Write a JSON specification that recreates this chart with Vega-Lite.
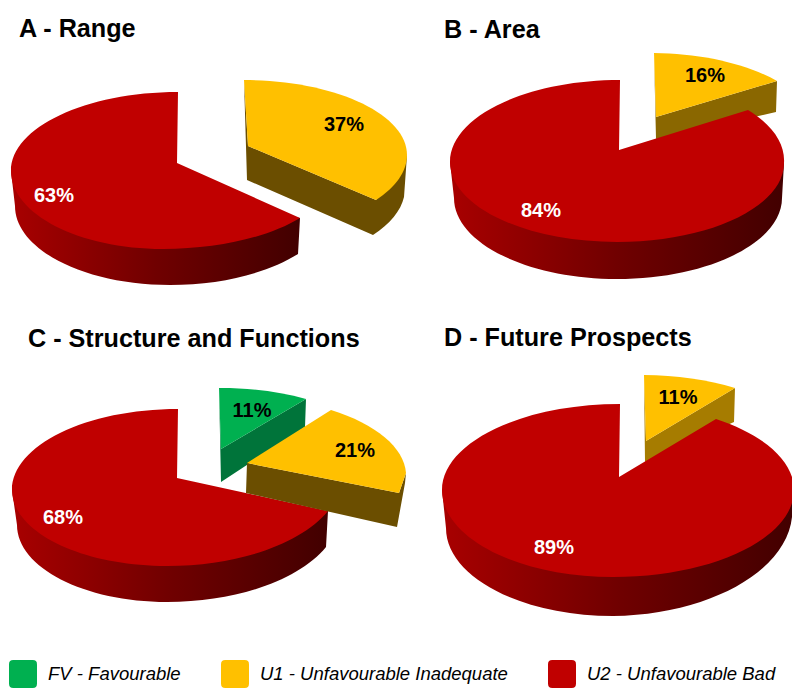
{"$schema":"https://vega.github.io/schema/vega-lite/v6.json","width":792,"height":688,"padding":0,"autosize":{"type":"none"},"background":"white","view":{"stroke":null},
"config":{"text":{"font":"Liberation Sans"}},
"datasets":{"slices":[
{"slice":"A U2","col":"left","row":"top","category":"U2 - Unfavourable Bad","value":0.63},
{"slice":"A U1","col":"left","row":"top","category":"U1 - Unfavourable Inadequate","value":0.37},
{"slice":"B U2","col":"right","row":"top","category":"U2 - Unfavourable Bad","value":0.84},
{"slice":"B U1","col":"right","row":"top","category":"U1 - Unfavourable Inadequate","value":0.16},
{"slice":"C U2","col":"left","row":"bottom","category":"U2 - Unfavourable Bad","value":0.68},
{"slice":"C U1","col":"left","row":"bottom","category":"U1 - Unfavourable Inadequate","value":0.21},
{"slice":"C FV","col":"left","row":"bottom","category":"FV - Favourable","value":0.11},
{"slice":"D U2","col":"right","row":"bottom","category":"U2 - Unfavourable Bad","value":0.89},
{"slice":"D U1","col":"right","row":"bottom","category":"U1 - Unfavourable Inadequate","value":0.11}],
"titles":[
{"panel":"A","col":"left","row":"top","title":"A - Range"},
{"panel":"B","col":"right","row":"top","title":"B - Area"},
{"panel":"C","col":"left","row":"bottom","title":"C - Structure and Functions"},
{"panel":"D","col":"right","row":"bottom","title":"D - Future Prospects"}]},
"data":{"name":"slices"},
"encoding":{
"x":{"field":"col","type":"nominal","axis":null,"scale":{"type":"point","domain":["left","right"],"range":[177,619],"padding":0}},
"y":{"field":"row","type":"nominal","axis":null,"scale":{"type":"point","domain":["top","bottom"],"range":[163,478],"padding":0}}},
"resolve":{"scale":{"shape":"independent"},"legend":{"shape":"independent"}},
"layer":[
{"transform":[{"filter":{"field":"slice","oneOf":["B U1"]}}],"mark":{"type":"point","filled":true,"size":4,"opacity":1,"fill":"#8a6700"},
"encoding":{"shape":{"field":"slice","type":"nominal","legend":null,"scale":{"domain":["B U1"],"range":["M35 -110 L37 -24 L157 -51 L158 -82 L37 -46 Z"]}}}},
{"transform":[{"filter":{"field":"slice","oneOf":["D U1"]}}],"mark":{"type":"point","filled":true,"size":4,"opacity":1,"fill":"#a67c00"},
"encoding":{"shape":{"field":"slice","type":"nominal","legend":null,"scale":{"domain":["D U1"],"range":["M25 -103 L26 -16 L115 -56 L116 -90 L27 -37 Z"]}}}},
{"transform":[{"filter":{"field":"slice","oneOf":["B U1","D U1"]}}],"mark":{"type":"point","filled":true,"size":4,"opacity":1},
"encoding":{"fill":{"field":"category","type":"nominal","scale":{"domain":["FV - Favourable","U1 - Unfavourable Inadequate","U2 - Unfavourable Bad"],"range":["#00b050","#ffc000","#c00000"]},
"legend":{"orient":"none","legendX":9,"legendY":660,"direction":"horizontal","columns":3,"title":null,"gridAlign":"none","columnPadding":40,"labelOffset":11,"labelLimit":0,"labelFont":"Liberation Sans","labelFontStyle":"italic","labelFontSize":18.5,"labelColor":"#000000","symbolSize":784,"symbolStrokeWidth":0,"symbolOpacity":1,"symbolType":"M-1 -0.7 Q-1 -1 -0.7 -1 L0.7 -1 Q1 -1 1 -0.7 L1 0.7 Q1 1 0.7 1 L-0.7 1 Q-1 1 -1 0.7 Z"}},
"shape":{"field":"slice","type":"nominal","legend":null,"scale":{"domain":["B U1","D U1"],"range":["M37 -46 L35 -110 A167 81 0 0 1 158 -82 Z","M27 -37 L25 -103 A176 87 0 0 1 116 -90 Z"]}}}},
{"transform":[{"filter":{"field":"slice","oneOf":["A U2","B U2","C U2","D U2"]}}],"mark":{"type":"point","filled":true,"size":4,"opacity":1,"fill":{"gradient":"linear","x1":0,"y1":0,"x2":1,"y2":0,"stops":[{"offset":0,"color":"#a80000"},{"offset":0.5,"color":"#700000"},{"offset":1,"color":"#420000"}]}},
"encoding":{"shape":{"field":"slice","type":"nominal","legend":null,"scale":{"domain":["A U2","B U2","C U2","D U2"],"range":["M-166 8 L123 55 L121 91 A165 84 0 0 1 -7 122 A155 79 0 0 1 -162 43 Z","M-169 -1 L165 0 L163 35 A165 81 0 0 1 -2 116 A163 81 0 0 1 -165 35 Z","M-165 12 L151 33 L149 69 A173 91 0 0 1 -10 124 A150 77 0 0 1 -160 47 Z","M-177 12 L175 12 L173 39 A185 105 0 0 1 -6 138 A167 88 0 0 1 -173 50 Z"]}}}},
{"transform":[{"filter":{"field":"slice","oneOf":["A U2","B U2","C U2","D U2"]}}],"mark":{"type":"point","filled":true,"size":4,"opacity":1},
"encoding":{"fill":{"field":"category","type":"nominal"},
"shape":{"field":"slice","type":"nominal","legend":null,"scale":{"domain":["A U2","B U2","C U2","D U2"],"range":["M0 0 L1 -71 A167 79 0 0 0 -166 8 A152 78 0 0 0 -14 86 A170 76 0 0 0 123 55 Z","M0 -13 L1 -83 A170 82 0 0 0 -169 -1 A167 80 0 0 0 -2 79 A167 79 0 0 0 165 0 A167 81 0 0 0 129 -53 Z","M0 0 L1 -69 A166 81 0 0 0 -165 12 A155 76 0 0 0 -10 88 A175 90 0 0 0 151 33 Z","M0 -1 L1 -74 A178 86 0 0 0 -177 12 A171 87 0 0 0 -6 99 A181 87 0 0 0 175 12 A181 86 0 0 0 97 -59 Z"]}}}},
{"transform":[{"filter":{"field":"slice","oneOf":["C FV"]}}],"mark":{"type":"point","filled":true,"size":4,"opacity":1,"fill":"#00743a"},
"encoding":{"shape":{"field":"slice","type":"nominal","legend":null,"scale":{"domain":["C FV"],"range":["M42 -90 L44 4 L128 -51 L129 -79 L44 -29 Z"]}}}},
{"transform":[{"filter":{"field":"slice","oneOf":["C FV"]}}],"mark":{"type":"point","filled":true,"size":4,"opacity":1},
"encoding":{"fill":{"field":"category","type":"nominal"},"shape":{"field":"slice","type":"nominal","legend":null,"scale":{"domain":["C FV"],"range":["M44 -29 L42 -90 A167 79 0 0 1 129 -79 Z"]}}}},
{"transform":[{"filter":{"field":"slice","oneOf":["A U1","C U1"]}}],"mark":{"type":"point","filled":true,"size":4,"opacity":1,"fill":"#6b4e00"},
"encoding":{"shape":{"field":"slice","type":"nominal","legend":null,"scale":{"domain":["A U1","C U1"],"range":["M67 -83 L70 17 L196 72 A167 79 0 0 0 227 34 L230 -8 L199 37 L71 -17 Z","M70 -15 L69 15 L220 49 L228 5 L229 -5 L222 15 Z"]}}}},
{"transform":[{"filter":{"field":"slice","oneOf":["A U1","C U1"]}}],"mark":{"type":"point","filled":true,"size":4,"opacity":1},
"encoding":{"fill":{"field":"category","type":"nominal"},"shape":{"field":"slice","type":"nominal","legend":null,"scale":{"domain":["A U1","C U1"],"range":["M71 -17 L67 -83 A163 75 0 0 1 230 -8 A163 77 0 0 1 199 37 Z","M70 -15 L154 -68 A167 79 0 0 1 229 -5 L222 15 Z"]}}}},
{"transform":[{"filter":{"field":"slice","oneOf":["A U2"]}}],"mark":{"type":"text","fontSize":20,"fontWeight":"bold","color":"#ffffff","baseline":"middle","dx":-123,"dy":33},"encoding":{"text":{"field":"value","type":"quantitative","format":".0%"}}},
{"transform":[{"filter":{"field":"slice","oneOf":["A U1"]}}],"mark":{"type":"text","fontSize":20,"fontWeight":"bold","color":"#000000","baseline":"middle","dx":167,"dy":-38},"encoding":{"text":{"field":"value","type":"quantitative","format":".0%"}}},
{"transform":[{"filter":{"field":"slice","oneOf":["B U2"]}}],"mark":{"type":"text","fontSize":20,"fontWeight":"bold","color":"#ffffff","baseline":"middle","dx":-78,"dy":48},"encoding":{"text":{"field":"value","type":"quantitative","format":".0%"}}},
{"transform":[{"filter":{"field":"slice","oneOf":["B U1"]}}],"mark":{"type":"text","fontSize":20,"fontWeight":"bold","color":"#000000","baseline":"middle","dx":86,"dy":-87},"encoding":{"text":{"field":"value","type":"quantitative","format":".0%"}}},
{"transform":[{"filter":{"field":"slice","oneOf":["C U2"]}}],"mark":{"type":"text","fontSize":20,"fontWeight":"bold","color":"#ffffff","baseline":"middle","dx":-114,"dy":40},"encoding":{"text":{"field":"value","type":"quantitative","format":".0%"}}},
{"transform":[{"filter":{"field":"slice","oneOf":["C U1"]}}],"mark":{"type":"text","fontSize":20,"fontWeight":"bold","color":"#000000","baseline":"middle","dx":178,"dy":-27},"encoding":{"text":{"field":"value","type":"quantitative","format":".0%"}}},
{"transform":[{"filter":{"field":"slice","oneOf":["C FV"]}}],"mark":{"type":"text","fontSize":20,"fontWeight":"bold","color":"#000000","baseline":"middle","dx":75,"dy":-67},"encoding":{"text":{"field":"value","type":"quantitative","format":".0%"}}},
{"transform":[{"filter":{"field":"slice","oneOf":["D U2"]}}],"mark":{"type":"text","fontSize":20,"fontWeight":"bold","color":"#ffffff","baseline":"middle","dx":-65,"dy":70},"encoding":{"text":{"field":"value","type":"quantitative","format":".0%"}}},
{"transform":[{"filter":{"field":"slice","oneOf":["D U1"]}}],"mark":{"type":"text","fontSize":20,"fontWeight":"bold","color":"#000000","baseline":"middle","dx":59,"dy":-80},"encoding":{"text":{"field":"value","type":"quantitative","format":".0%"}}},
{"data":{"name":"titles"},"transform":[{"filter":{"field":"panel","oneOf":["A"]}}],"mark":{"type":"text","fontSize":25.2,"fontWeight":"bold","color":"#000000","align":"left","baseline":"alphabetic","dx":-158,"dy":-126},"encoding":{"text":{"field":"title","type":"nominal"}}},
{"data":{"name":"titles"},"transform":[{"filter":{"field":"panel","oneOf":["B"]}}],"mark":{"type":"text","fontSize":25.2,"fontWeight":"bold","color":"#000000","align":"left","baseline":"alphabetic","dx":-175,"dy":-125},"encoding":{"text":{"field":"title","type":"nominal"}}},
{"data":{"name":"titles"},"transform":[{"filter":{"field":"panel","oneOf":["C"]}}],"mark":{"type":"text","fontSize":25.2,"fontWeight":"bold","color":"#000000","align":"left","baseline":"alphabetic","dx":-149,"dy":-131},"encoding":{"text":{"field":"title","type":"nominal"}}},
{"data":{"name":"titles"},"transform":[{"filter":{"field":"panel","oneOf":["D"]}}],"mark":{"type":"text","fontSize":25.2,"fontWeight":"bold","color":"#000000","align":"left","baseline":"alphabetic","dx":-175,"dy":-132},"encoding":{"text":{"field":"title","type":"nominal"}}}
]}
